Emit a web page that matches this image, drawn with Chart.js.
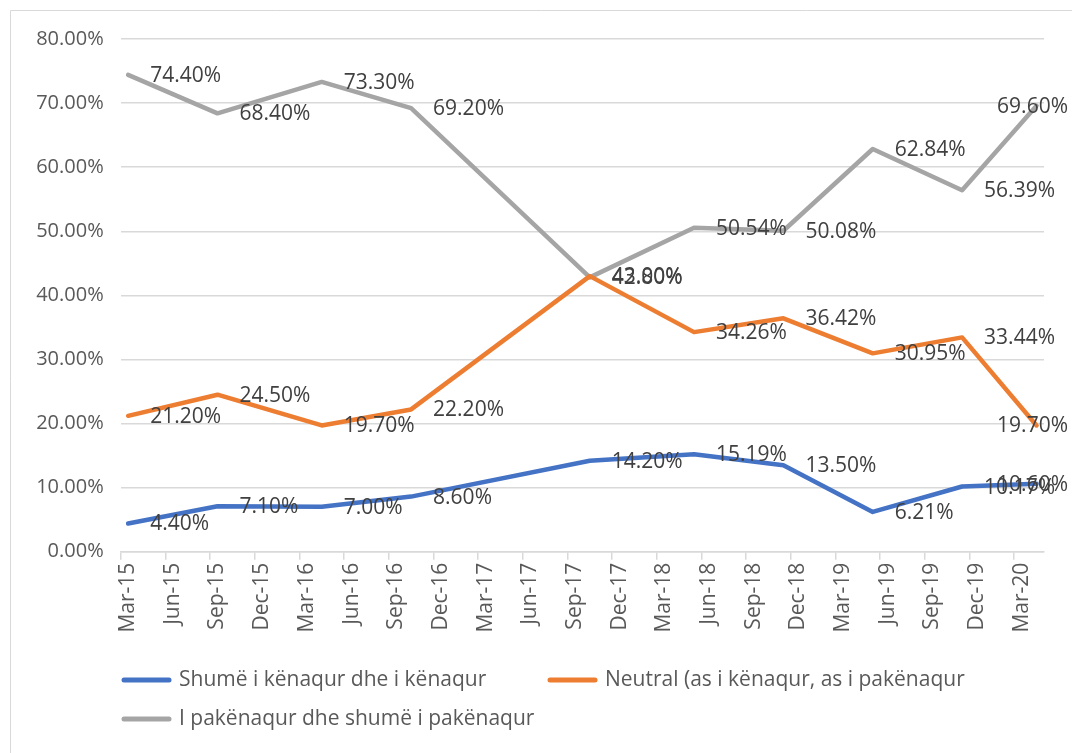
<!DOCTYPE html>
<html>
<head>
<meta charset="utf-8">
<script src="https://cdn.jsdelivr.net/npm/chart.js@4.4.1/dist/chart.umd.min.js"></script>
<style>
  html, body { margin: 0; padding: 0; background: #ffffff; }
  #wrap { width: 1072px; height: 753px; position: relative; }
</style>
</head>
<body>
<div id="wrap"><canvas id="c" width="1072" height="753"></canvas></div>
<script>
// ---- data ----
const axisStart = 'Mar-15';
const axisEnd = 'Apr-20';
const tickLabels = ['Mar-15','Jun-15','Sep-15','Dec-15','Mar-16','Jun-16','Sep-16','Dec-16','Mar-17','Jun-17',
  'Sep-17','Dec-17','Mar-18','Jun-18','Sep-18','Dec-18','Mar-19','Jun-19','Sep-19','Dec-19','Mar-20'];
const surveyDates = ['Mar-15','Sep-15','Apr-16','Oct-16','Oct-17','May-18','Nov-18','May-19','Nov-19','Apr-20'];
const satisfied    = [4.40, 7.10, 7.00, 8.60, 14.20, 15.19, 13.50, 6.21, 10.17, 10.60];
const neutral      = [21.20, 24.50, 19.70, 22.20, 43.00, 34.26, 36.42, 30.95, 33.44, 19.70];
const dissatisfied = [74.40, 68.40, 73.30, 69.20, 42.80, 50.54, 50.08, 62.84, 56.39, 69.60];
const seriesNames = ['Shumë i kënaqur dhe i kënaqur', 'Neutral (as i kënaqur, as i pakënaqur', 'I pakënaqur dhe shumë i pakënaqur'];
const seriesColors = ['#4472C4', '#ED7D31', '#A5A5A5'];

// ---- monthly category axis built from start/end ----
const MN = ['Jan','Feb','Mar','Apr','May','Jun','Jul','Aug','Sep','Oct','Nov','Dec'];
function parseM(s){ const [m,y]=s.split('-'); return {m: MN.indexOf(m), y: 2000+parseInt(y,10)}; }
const months = [];
(function(){
  let a = parseM(axisStart), b = parseM(axisEnd);
  let m = a.m, y = a.y;
  while (y < b.y || (y === b.y && m <= b.m)) {
    months.push(MN[m] + '-' + String(y % 100).padStart(2,'0'));
    m++; if (m > 11) { m = 0; y++; }
  }
})();

const FONT = '"Open Sans", "Noto Sans", sans-serif';

function mkSeries(vals){ return surveyDates.map((d,i)=>({x:d, y:vals[i]})); }
const allSeries = [satisfied, neutral, dissatisfied];

const datasets = allSeries.map((vals, i) => ({
  label: seriesNames[i],
  data: mkSeries(vals),
  borderColor: seriesColors[i],
  backgroundColor: seriesColors[i],
  borderWidth: 4.5,
  pointRadius: 0,
  tension: 0,
  fill: false,
  borderCapStyle: 'round',
  borderJoinStyle: 'round'
}));

const frame = {
  id: 'frame',
  beforeDraw(chart){
    const c = chart.ctx; c.save();
    c.strokeStyle = '#d9d9d9'; c.lineWidth = 1;
    c.beginPath(); c.moveTo(10.5, 753); c.lineTo(10.5, 10.5); c.lineTo(1072, 10.5); c.stroke();
    c.restore();
  }
};

const valueLabels = {
  id: 'valueLabels',
  afterDatasetsDraw(chart){
    const c = chart.ctx; c.save();
    c.font = '21px ' + FONT; c.fillStyle = '#404040';
    c.textBaseline = 'middle'; c.textAlign = 'left';
    const limit = 1068;
    chart.data.datasets.forEach((ds, di) => {
      const meta = chart.getDatasetMeta(di);
      meta.data.forEach((pt, i) => {
        const t = ds.data[i].y.toFixed(2) + '%';
        const w = c.measureText(t).width;
        let x = pt.x + 22;
        if (x + w > limit) x = limit - w;
        c.fillText(t, x, pt.y + 1);
      });
    });
    c.restore();
  }
};

const legendDraw = {
  id: 'legendDraw',
  afterDraw(chart){
    const c = chart.ctx; c.save();
    const spots = [{x:122, y:680}, {x:548, y:680}, {x:122, y:719}];
    c.font = '21px ' + FONT; c.fillStyle = '#595959';
    c.textBaseline = 'middle'; c.textAlign = 'left';
    chart.data.datasets.forEach((ds, i) => {
      const s = spots[i];
      c.strokeStyle = ds.borderColor; c.lineWidth = 5; c.lineCap = 'round';
      c.beginPath(); c.moveTo(s.x + 2, s.y); c.lineTo(s.x + 47, s.y); c.stroke();
      c.fillText(ds.label, s.x + 57, s.y);
    });
    c.restore();
  }
};

new Chart(document.getElementById('c'), {
  type: 'line',
  data: { labels: months, datasets },
  options: {
    responsive: false,
    animation: false,
    events: [],
    layout: { padding: { left: 10, right: 28, top: 39, bottom: 0 } },
    plugins: { legend: { display: false }, tooltip: { enabled: false } },
    scales: {
      x: {
        type: 'category',
        offset: true,
        grid: {
          offset: true,
          drawOnChartArea: false,
          drawTicks: true,
          tickLength: 8,
          lineWidth: 1.5,
          color: (ctx) => (ctx.index !== undefined && ctx.index % 3 === 0) ? '#d9d9d9' : 'rgba(0,0,0,0)'
        },
        border: { display: true, color: '#d9d9d9', width: 1.5 },
        ticks: {
          autoSkip: false,
          minRotation: 90,
          maxRotation: 90,
          padding: 3,
          color: '#595959',
          font: { family: FONT, size: 21 },
          callback: function(v){ const l = this.getLabelForValue(v); return tickLabels.includes(l) ? l : ''; }
        },
        afterFit: (s) => { s.height = 201.3; }
      },
      y: {
        min: 0, max: 80,
        ticks: {
          stepSize: 10,
          padding: 17,
          color: '#595959',
          font: { family: FONT, size: 20 },
          callback: (v) => Number(v).toFixed(2) + '%'
        },
        grid: { color: '#d9d9d9', lineWidth: 1.5, drawTicks: false },
        border: { display: false },
        afterFit: (s) => { s.width = 110.7; }
      }
    }
  },
  plugins: [frame, valueLabels, legendDraw]
});
</script>
</body>
</html>
